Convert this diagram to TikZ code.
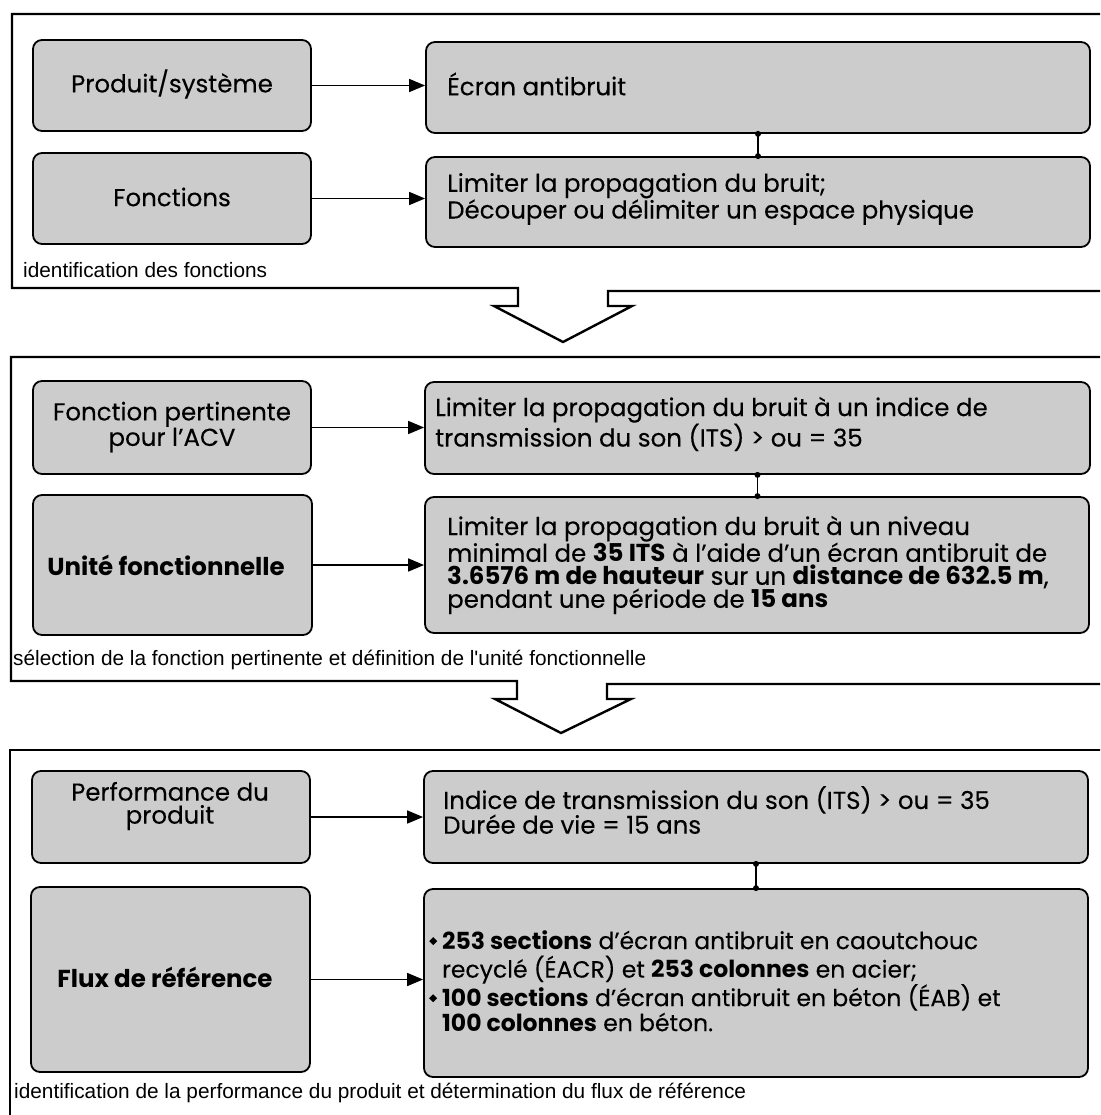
\documentclass[tikz,border=0pt]{standalone}
\usepackage{fontspec}
\setmainfont{Poppins}[UprightFeatures={FakeBold=0.2}]
\newfontfamily\labelfont{Liberation Sans}
\usetikzlibrary{arrows.meta}
\definecolor{boxgray}{RGB}{204,204,204}
\newcommand\bulletmark{\raisebox{4pt}{\rotatebox{45}{\rule{5.6pt}{5.6pt}}}}
\begin{document}
\begin{tikzpicture}[x=1pt,y=-1pt,
  frameline/.style={line width=2.4pt, line join=miter},
  gbox/.style={draw, line width=1.8pt, rounded corners=9pt, fill=boxgray, inner sep=0pt},
  ctext/.style={font=\fontsize{24.5}{23}\selectfont, align=center, inner sep=0pt},
  btext/.style={font=\fontsize{24.5}{24}\selectfont\bfseries, align=center, inner sep=0pt},
  ltext/.style={font=\fontsize{24.5}{23}\selectfont, align=left, inner sep=0pt, anchor=west},
  caption/.style={font=\labelfont\fontsize{20.8}{22}\selectfont, anchor=west, inner sep=0pt},
  flow/.style={line width=1.6pt, -{Triangle[length=16pt,width=13pt]}},
  link/.style={line width=1.4pt},
  dot/.style={fill=black},
]
\useasboundingbox (0,0) rectangle (1100,1115);
\clip (0,0) rectangle (1100,1115);

% ---------- frames with the down-pointing transition arrows ----------
\draw[frameline] (1110,14) -- (12,14) -- (12,288) -- (518,288) -- (518,306)
  -- (494,306) -- (563,342) -- (632,306) -- (608,306) -- (608,291) -- (1110,291);
\draw[frameline] (1110,357) -- (11,357) -- (11,681) -- (517,681) -- (517,699)
  -- (495,699) -- (561,733) -- (631,699) -- (607,699) -- (607,684) -- (1110,684);
\draw[frameline] (1110,750) -- (10,750) -- (10,1125);

% ---------- stage 1 ----------
\node[gbox, minimum width=278pt, minimum height=91pt] (prod) at (172,85.5) {};
\node[gbox, minimum width=278pt, minimum height=91pt] (fonc) at (172,198.5) {};
\node[gbox, minimum width=664pt, minimum height=91pt] (ecran) at (758,87.5) {};
\node[gbox, minimum width=664pt, minimum height=90pt] (lim1) at (758,202) {};

\node[ctext] (prodtxt) at (172,84) {Produit/système};
\node[ctext] (fonctxt) at (172,197) {Fonctions};
\node[ltext] (ecrantxt) at (447,84) {Écran antibruit};
\node[ltext] (lim1txt) at (447,199) {Limiter la propagation du bruit;\\Découper ou délimiter un espace physique};

\draw[flow] (prod.east) -- (prod.east -| ecran.west);
\draw[flow] (fonc.east) -- (fonc.east -| lim1.west);
\draw[link] (ecran.south) -- (lim1.north);
\fill[dot] (ecran.south) circle (3pt) (lim1.north) circle (3pt);

\node[caption] (cap1) at (23,270) {identification des fonctions};

% ---------- stage 2 ----------
\node[gbox, minimum width=278pt, minimum height=93pt] (pert) at (172,427.5) {};
\node[gbox, minimum width=665pt, minimum height=92pt] (lim2) at (757.5,428) {};
\node[gbox, minimum width=279pt, minimum height=140pt] (unite) at (172.5,565) {};
\node[gbox, minimum width=664pt, minimum height=136pt] (lim3) at (757,565) {};

\node[ctext] (perttxt) at (172,427) {Fonction pertinente\\pour l’ACV};
\node[ltext] (lim2txt) at (435,424) {Limiter la propagation du bruit à un indice de\\transmission du son (ITS) > ou = 35};
\node[btext] (unitetxt) at (166,565) {Unité fonctionnelle};
\node[ltext] (lim3txt) at (447,565) {Limiter la propagation du bruit à un niveau\\minimal de \textbf{35 ITS} à l'aide d'un écran antibruit de\\\textbf{3.6576 m de hauteur} sur un \textbf{distance de 632.5 m},\\pendant une période de \textbf{15 ans}};

\draw[flow] (pert.east) -- (pert.east -| lim2.west);
\draw[flow] (unite.east) -- (unite.east -| lim3.west);
\draw[link] (lim2.south) -- (lim2.south |- lim3.north);
\fill[dot] (lim2.south) circle (3pt) (lim2.south |- lim3.north) circle (3pt);

\node[caption] (cap2) at (13,660) {sélection de la fonction pertinente et définition de l'unité fonctionnelle};

% ---------- stage 3 ----------
\node[gbox, minimum width=278pt, minimum height=92pt] (perf) at (171,817) {};
\node[gbox, minimum width=664pt, minimum height=92pt] (ind) at (756,817) {};
\node[gbox, minimum width=279pt, minimum height=185pt] (flux) at (170.5,979.5) {};
\node[gbox, minimum width=664pt, minimum height=188pt] (ref) at (756,983) {};

\node[ctext] (perftxt) at (170,806) {Performance du\\produit};
\node[ltext] (indtxt) at (443,810) {Indice de transmission du son (ITS) > ou = 35\\Durée de vie = 15 ans};
\node[btext] (fluxtxt) at (165,977) {Flux de référence};
\node[ltext, font=\fontsize{23.5}{22}\selectfont] (reftxt) at (429,984) {\begin{tabular}{@{}l@{\hspace{5pt}}l@{}}
\bulletmark & \textbf{253 sections} d’écran antibruit en caoutchouc\\
 & recyclé (ÉACR) et \textbf{253 colonnes} en acier;\\
\bulletmark & \textbf{100 sections} d’écran antibruit en béton (ÉAB) et\\
 & \textbf{100 colonnes} en béton.
\end{tabular}};

\draw[flow] (perf.east) -- (perf.east -| ind.west);
\draw[flow] (flux.east) -- (flux.east -| ref.west);
\draw[link] (ind.south) -- (ind.south |- ref.north);
\fill[dot] (ind.south) circle (3pt) (ind.south |- ref.north) circle (3pt);

\node[caption] (cap3) at (14,1093) {identification de la performance du produit et détermination du flux de référence};
\end{tikzpicture}
\end{document}
